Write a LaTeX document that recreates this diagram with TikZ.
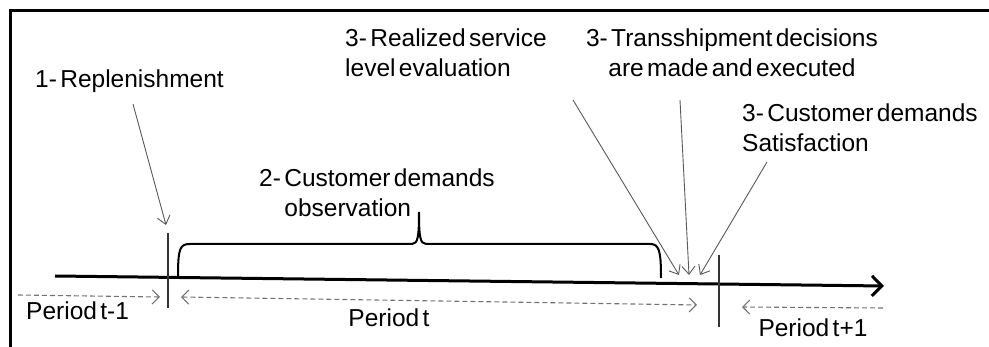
\documentclass[tikz,border=0pt]{standalone}
\usepackage{fontspec}
\setmainfont[WordSpace=0.5]{Liberation Sans}
\usetikzlibrary{arrows.meta}

\tikzset{
  lbl/.style={inner sep=0pt, font=\fontsize{24.5}{30}\selectfont},
  pointer/.style={draw=black!65, line width=0.9pt, -{Straight Barb[length=8pt,width=13pt]}},
  period/.style={draw=black!55, line width=1.1pt, dash pattern=on 5pt off 3pt},
  barb/.tip={Straight Barb[length=7pt,width=14pt]},
  tick/.style={draw=black!80, line width=1.2pt},
}

\begin{document}
\begin{tikzpicture}[x=1pt,y=-1pt]
\useasboundingbox (0,0) rectangle (989,347);
% frame (top and left edges only)
\draw[line width=3pt] (10,347) -- (10,11) -- (989,11);

% time axis
\draw[line width=3pt, -{Straight Barb[length=10pt,width=20pt,line width=3pt]}] (55,276) -- (884,286);
\draw[tick] (168,233) -- (168,308);
\draw[tick] (719,255) -- (719,327);

% observation bracket
\draw[line width=2pt] (178,277) .. controls (178,248) and (180,244) .. (190,244)
  -- (412,244) .. controls (418,244) and (419,236) .. (419,212)
  .. controls (419,236) and (420,244) .. (426,244)
  -- (650,244) .. controls (659,244) and (661,250) .. (661,278);

% period labels
\node[lbl, anchor=west] (pprev) at (26,311) {Period t-1};
\node[lbl] (pcur) at (389,318) {Period t};
\node[lbl] (pnext) at (813,328) {Period t+1};

\draw[period, -barb] (18,295) -- (160,297);
\draw[period, barb-barb] (181,297) -- (697,305);
\draw[period, -barb] (883,308) -- (742,307);

% event labels
\node[lbl, anchor=west] (repl) at (35,81) {1- Replenishment};
\node[lbl, anchor=west, align=left] (obs) at (259,193) {2- Customer demands\\\phantom{2- }observation};
\node[lbl, anchor=west, align=left] (real) at (345,53) {3- Realized service\\level evaluation};
\node[lbl, align=center] (trans) at (732,53) {3- Transshipment decisions\\are made and executed};
\node[lbl, anchor=west, align=left] (sat) at (742,128) {3- Customer demands\\Satisfaction};

% pointers onto the axis
\coordinate (replS) at (133,104);
\coordinate (replT) at (166,225);
\coordinate (realS) at (573,100);
\coordinate (realT) at (679,275);
\coordinate (transS) at (680,100);
\coordinate (transT) at (689,275);
\coordinate (satS) at (767,162);
\coordinate (satT) at (700,275);
\draw[pointer] (replS) -- (replT);
\draw[pointer] (realS) -- (realT);
\draw[pointer] (transS) -- (transT);
\draw[pointer] (satS) -- (satT);
\end{tikzpicture}
\end{document}
